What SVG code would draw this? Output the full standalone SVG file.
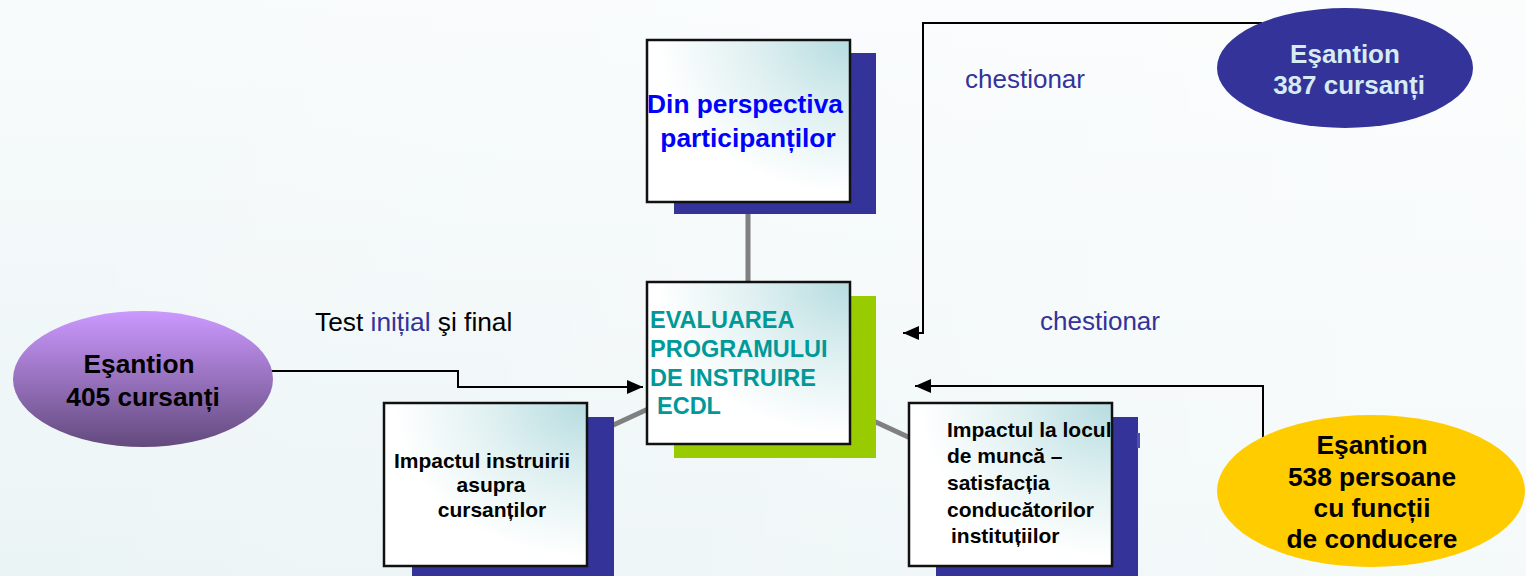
<svg xmlns="http://www.w3.org/2000/svg" width="1526" height="576" viewBox="0 0 1526 576">
<defs>
<linearGradient id="bg" x1="0" y1="0" x2="0" y2="1">
<stop offset="0" stop-color="#f8fbfc"/>
<stop offset="1" stop-color="#ebf4f5"/>
</linearGradient>
<linearGradient id="bgr" x1="0" y1="0" x2="1" y2="0">
<stop offset="0" stop-color="#ffffff" stop-opacity="0"/>
<stop offset="1" stop-color="#ffffff" stop-opacity="0.5"/>
</linearGradient>
<radialGradient id="boxfill" cx="1" cy="0" r="0.95" fx="1" fy="0">
<stop offset="0" stop-color="#b6dce0"/>
<stop offset="0.5" stop-color="#dff0f1"/>
<stop offset="1" stop-color="#ffffff"/>
</radialGradient>
<linearGradient id="purple" x1="0" y1="0" x2="0" y2="1">
<stop offset="0" stop-color="#cc99ff"/>
<stop offset="1" stop-color="#634a7d"/>
</linearGradient>
<marker id="arr" markerUnits="userSpaceOnUse" viewBox="0 0 16 14" refX="16" refY="7" markerWidth="16" markerHeight="14" orient="auto">
<path d="M0,0 L16,7 L0,14 z" fill="#000"/>
</marker>
<style>
.box{fill:url(#boxfill);stroke:#111;stroke-width:2.5}
.sh{fill:#333399}
.link{stroke:#808080;stroke-width:5;fill:none}
.arrow{stroke:#000;stroke-width:2;fill:none;marker-end:url(#arr)}
.b{font-family:"Liberation Sans",Arial,sans-serif;font-weight:bold}
.n{font-family:"Liberation Sans",Arial,sans-serif}
</style>
</defs>
<rect width="1526" height="576" fill="url(#bg)"/>
<rect width="1526" height="576" fill="url(#bgr)"/>

<g id="links">
<line class="link" x1="748" y1="363" x2="748" y2="121"/>
<line class="link" x1="748" y1="363" x2="485" y2="484"/>
<line class="link" x1="748" y1="363" x2="1010" y2="484"/>
</g>

<g id="node-top">
<rect class="sh" x="674" y="53" width="202" height="161"/>
<rect class="box" x="647" y="40" width="203" height="162"/>
<text class="b" font-size="26.3" fill="#0000ff" text-anchor="middle"><tspan x="745" y="113">Din perspectiva</tspan><tspan x="748" y="147">participanților</tspan></text>
</g>

<g id="node-center">
<rect x="674" y="296" width="202" height="162" fill="#99cc00"/>
<rect class="box" x="647" y="282" width="203" height="162"/>
<text class="b" font-size="23.5" fill="#009999"><tspan x="650" y="328">EVALUAREA</tspan><tspan x="650" y="357">PROGRAMULUI</tspan><tspan x="650" y="386">DE INSTRUIRE</tspan><tspan x="657" y="414">ECDL</tspan></text>
</g>

<g id="node-left">
<rect class="sh" x="412" y="417" width="202" height="170"/>
<rect class="box" x="384" y="403" width="203" height="163"/>
<text class="b" font-size="21" fill="#000" text-anchor="middle"><tspan x="482" y="468">Impactul instruirii</tspan><tspan x="491" y="492">asupra</tspan><tspan x="492" y="517">cursanților</tspan></text>
</g>

<g id="node-right">
<rect class="sh" x="936" y="417" width="202" height="170"/>
<rect x="1137" y="433" width="3" height="15" fill="#4d4db3"/>
<rect class="box" x="909" y="403" width="203" height="163"/>
<text class="b" font-size="21" fill="#000"><tspan x="947" y="437">Impactul la locul</tspan><tspan x="947" y="463">de muncă –</tspan><tspan x="947" y="490">satisfacția</tspan><tspan x="947" y="517">conducătorilor</tspan><tspan x="951" y="543">instituțiilor</tspan></text>
</g>

<g id="connectors">
<path class="arrow" d="M270,371 H458 V387 H643"/>
<path class="arrow" d="M1262,23 H923 V333 H903"/>
<path class="arrow" d="M1263,440 V386 H915"/>
</g>

<g id="labels">
<text class="n" font-size="26.3" fill="#000" x="315" y="331">Test <tspan fill="#333399">inițial</tspan> şi final</text>
<text class="n" font-size="26" fill="#333399" x="965" y="88">chestionar</text>
<text class="n" font-size="26" fill="#333399" x="1040" y="330">chestionar</text>
</g>

<g id="sample-387">
<ellipse cx="1345" cy="68" rx="128" ry="60" fill="#333399"/>
<text class="b" font-size="26" fill="#d6ecf2" text-anchor="middle"><tspan x="1345" y="63">Eşantion</tspan><tspan x="1349" y="94">387 cursanți</tspan></text>
</g>

<g id="sample-405">
<ellipse cx="143" cy="379" rx="130" ry="68" fill="url(#purple)"/>
<text class="b" font-size="26.3" fill="#000" text-anchor="middle"><tspan x="139" y="373">Eşantion</tspan><tspan x="143" y="406">405 cursanți</tspan></text>
</g>

<g id="sample-538">
<ellipse cx="1371" cy="491" rx="154" ry="76" fill="#ffcc00"/>
<text class="b" font-size="26.3" fill="#000" text-anchor="middle"><tspan x="1372" y="454">Eşantion</tspan><tspan x="1372" y="486">538 persoane</tspan><tspan x="1372" y="517">cu funcții</tspan><tspan x="1372" y="548">de conducere</tspan></text>
</g>
</svg>
